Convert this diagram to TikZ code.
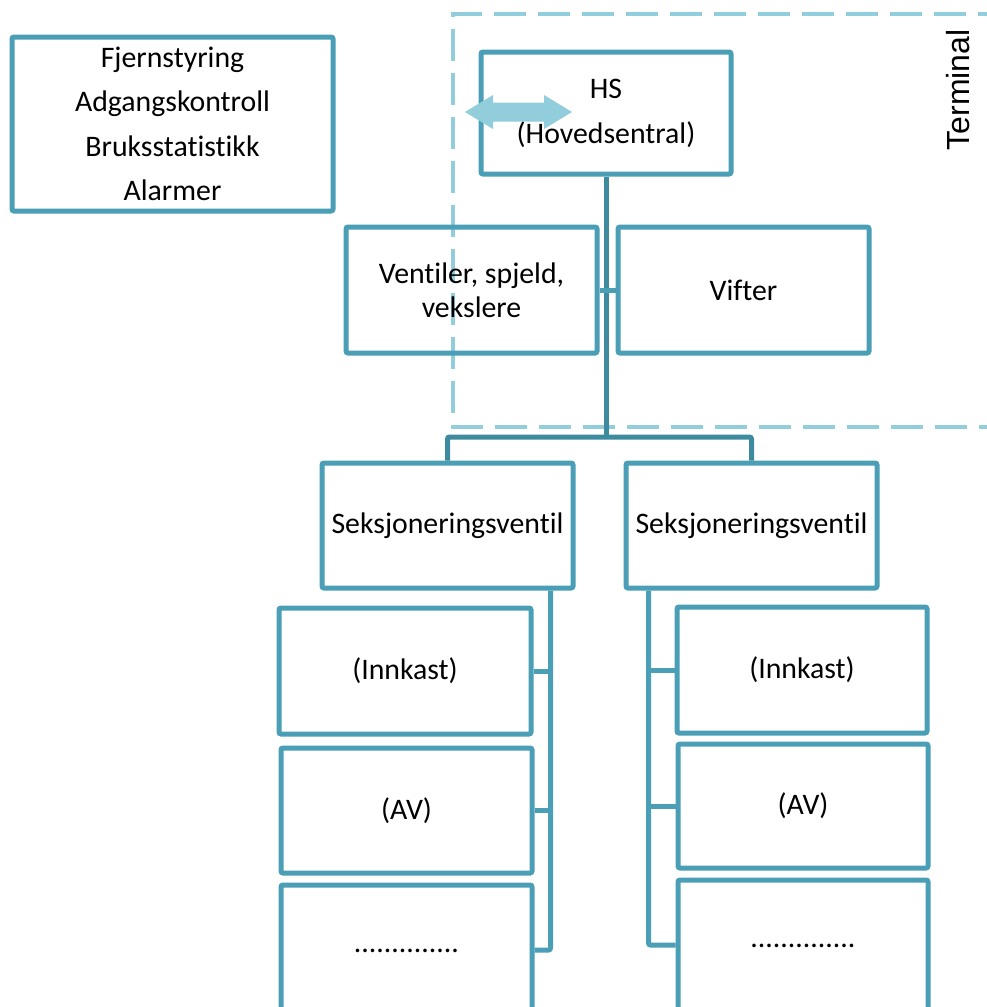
\documentclass[tikz,border=0pt]{standalone}
\usepackage{fontspec}
\setmainfont{Carlito}[Ligatures=NoCommon]
\newfontfamily\arialfont{Liberation Sans}
\usetikzlibrary{calc}
\definecolor{boxc}{RGB}{74,158,181}
\definecolor{trunkc}{RGB}{62,138,158}
\definecolor{dashc}{RGB}{146,205,220}
\tikzset{
  box/.style={draw=boxc, line width=5pt, rounded corners=2pt, rectangle, inner sep=0pt,
    font=\fontsize{29.8}{34}\selectfont, align=center, text=black},
  link/.style={draw=boxc, line width=5pt, rounded corners=2pt},
  trunk/.style={draw=trunkc, line width=5pt, rounded corners=2pt},
  termframe/.style={draw=dashc, line width=4pt, dash pattern=on 32pt off 12pt},
}
\begin{document}
\begin{tikzpicture}[x=1pt, y=-1pt]
\useasboundingbox (0,0) rectangle (987,1007);
\clip (0,0) rectangle (987,1007);

% dashed terminal frame
\draw[termframe] (1010,14) -- (453,14) -- (453,427) -- (1010,427);
\node[font=\arialfont\fontsize{32}{36}\selectfont, rotate=90, inner sep=0pt] (term) at (958,90) {Terminal};

% top-left box
\node[box, minimum width=321pt, minimum height=174pt, font=\fontsize{29.8}{44.3}\selectfont] (funcs) at (172.5,124)
  {Fjernstyring\\Adgangskontroll\\Bruksstatistikk\\Alarmer};

% main central
\node[box, minimum width=250pt, minimum height=122pt, font=\fontsize{29.8}{45}\selectfont] (hs) at (606,113) {HS\\(Hovedsentral)};

\node[box, minimum width=251pt, minimum height=126pt] (vent) at (471.5,290) {Ventiler, spjeld,\\vekslere};
\node[box, minimum width=251pt, minimum height=126pt] (vif) at (743.5,290) {Vifter};

\node[box, minimum width=251pt, minimum height=125pt] (seksL) at (447.5,525.5) {Seksjoneringsventil};
\node[box, minimum width=251pt, minimum height=125pt] (seksR) at (751.5,525.5) {Seksjoneringsventil};

% left children
\node[box, minimum width=252pt, minimum height=126pt] (innL) at (405,671) {(Innkast)};
\node[box, minimum width=251pt, minimum height=125pt] (avL) at (406.5,810.5) {(AV)};
\node[box, minimum width=251pt, minimum height=130pt] (dotL) at (406.5,950) {\raisebox{-6pt}{..............}};

% right children
\node[box, minimum width=250pt, minimum height=126pt] (innR) at (802,670) {(Innkast)};
\node[box, minimum width=250pt, minimum height=124pt] (avR) at (803,806) {(AV)};
\node[box, minimum width=250pt, minimum height=130pt] (dotR) at (803,945) {\raisebox{-6pt}{..............}};

% connectors
\coordinate (busT) at (606,437);
\draw[trunk] (hs.south) -- (busT);
\draw[trunk] (seksL.north) |- (busT) -| (seksR.north);
\draw[link] (vent.east) -- (vif.west);

\coordinate (tL) at ($(seksL.south east)+(-25,0)$);
\draw[link] (tL) |- (dotL.east);
\draw[link] (tL |- innL.east) -- (innL.east);
\draw[link] (tL |- avL.east) -- (avL.east);

\coordinate (tR) at ($(seksR.south west)+(25,0)$);
\draw[link] (tR) |- (dotR.west);
\draw[link] (tR |- innR.west) -- (innR.west);
\draw[link] (tR |- avR.west) -- (avR.west);

% double block arrow
\fill[dashc] (465,112) -- (493,95) -- (493,102.5) -- (544,102.5) -- (544,95) -- (572,112)
  -- (544,129) -- (544,121.5) -- (493,121.5) -- (493,129) -- cycle;
\end{tikzpicture}
\end{document}
